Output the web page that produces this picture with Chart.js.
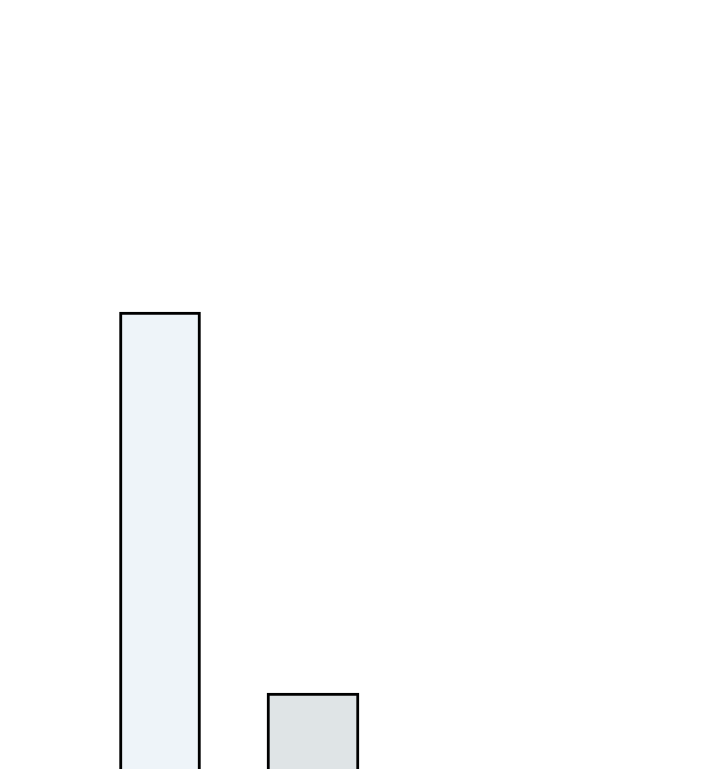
<!DOCTYPE html>
<html>
<head>
<meta charset="utf-8">
<script src="https://cdn.jsdelivr.net/npm/chart.js@4/dist/chart.umd.min.js"></script>
<style>
  html, body { margin: 0; padding: 0; background: #ffffff; overflow: hidden; }
  #wrap { position: relative; width: 720px; height: 1000px; }
</style>
</head>
<body>
<div id="wrap"><canvas id="c"></canvas></div>
<script>
const categories = ['A', 'B'];
const seriesA = [68.8, null];
const seriesB = [null, 30.7];
const yMin = 0;
const yMax = 100;

new Chart(document.getElementById('c'), {
  type: 'bar',
  data: {
    labels: categories,
    datasets: [
      {
        data: seriesA,
        backgroundColor: '#eef4f9',
        borderColor: '#000000',
        borderWidth: 3,
        barThickness: 81,
        grouped: false
      },
      {
        data: seriesB,
        backgroundColor: '#dfe4e6',
        borderColor: '#000000',
        borderWidth: 3,
        barThickness: 92,
        grouped: false
      }
    ]
  },
  options: {
    responsive: true,
    maintainAspectRatio: false,
    animation: false,
    layout: { padding: { left: 83.5, right: 330.5, top: 0, bottom: 0 } },
    plugins: { legend: { display: false }, tooltip: { enabled: false } },
    scales: {
      x: { display: false, offset: true },
      y: { display: false, min: yMin, max: yMax }
    }
  }
});
</script>
</body>
</html>
